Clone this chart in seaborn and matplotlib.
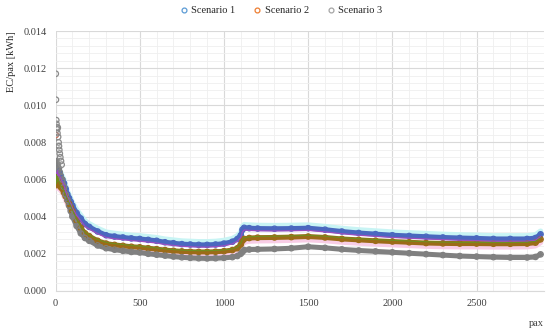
import pandas as pd
import matplotlib.pyplot as plt
import seaborn as sns
from matplotlib.lines import Line2D
from matplotlib.ticker import MultipleLocator, FormatStrFormatter
from matplotlib.transforms import ScaledTranslation

pax = [1, 3, 5, 8, 12, 16, 20, 25, 30, 40, 50, 60, 70, 80, 90, 100, 125, 150, 175,
       200, 250, 300, 350, 400, 450, 500, 550, 600, 650, 700, 750, 800, 850, 900,
       950, 1000, 1050, 1080, 1100, 1110, 1120, 1150, 1200, 1300, 1400, 1500, 1600,
       1700, 1800, 1900, 2000, 2100, 2200, 2300, 2400, 2500, 2600, 2700, 2800,
       2850, 2880]

scenario1 = [0.0062, 0.0060, 0.0065, 0.0064, 0.0066, 0.0063, 0.0064, 0.0063, 0.0062,
             0.0060, 0.0058, 0.0055, 0.0052, 0.0050, 0.0048, 0.0046, 0.0042, 0.0039,
             0.0036, 0.00345, 0.0032, 0.0030, 0.00293, 0.00288, 0.00283, 0.0028,
             0.00275, 0.0027, 0.00262, 0.00257, 0.00252, 0.0025, 0.00248, 0.00248,
             0.0025, 0.00255, 0.00265, 0.0028, 0.0030, 0.0033, 0.0034, 0.00338,
             0.00336, 0.00335, 0.00336, 0.00338, 0.0033, 0.0032, 0.00312, 0.00306,
             0.0030, 0.00296, 0.00292, 0.00288, 0.00285, 0.00283, 0.0028, 0.0028,
             0.0028, 0.00285, 0.00305]

scenario2 = [0.0060, 0.0057, 0.0062, 0.0058, 0.0061, 0.0059, 0.0058, 0.0057, 0.0056,
             0.0055, 0.0053, 0.0051, 0.0049, 0.0047, 0.0045, 0.0043, 0.0038, 0.0034,
             0.0031, 0.00295, 0.0027, 0.00255, 0.00248, 0.00243, 0.00238, 0.00235,
             0.0023, 0.00225, 0.0022, 0.00216, 0.00213, 0.00211, 0.0021, 0.0021,
             0.00211, 0.00214, 0.0022, 0.0023, 0.0025, 0.0027, 0.0028, 0.00285,
             0.00287, 0.00288, 0.0029, 0.00293, 0.00288, 0.0028, 0.00275, 0.0027,
             0.00266, 0.00262, 0.00258, 0.00256, 0.00255, 0.00255, 0.00254, 0.00254,
             0.00255, 0.0026, 0.00278]

scenario3 = [0.0065, 0.0068, 0.0070, 0.0066, 0.0068, 0.0065, 0.0066, 0.0064, 0.0062,
             0.0060, 0.0056, 0.0052, 0.0049, 0.0046, 0.0043, 0.0040, 0.0035, 0.0031,
             0.00285, 0.0027, 0.00245, 0.0023, 0.00222, 0.00216, 0.0021, 0.00207,
             0.0020, 0.00195, 0.0019, 0.00185, 0.00181, 0.00178, 0.00176, 0.00175,
             0.00176, 0.00178, 0.00182, 0.00188, 0.0020, 0.0021, 0.0022, 0.00223,
             0.00224, 0.00226, 0.0023, 0.00238, 0.00232, 0.00224, 0.00218, 0.00213,
             0.00208, 0.00203, 0.00198, 0.00193, 0.00188, 0.00185, 0.00182, 0.0018,
             0.0018, 0.00183, 0.00197]

# scattered start-up points
outlier_pax3 = [1, 2, 4, 5, 7, 9, 11, 13, 15, 18, 20, 22, 25, 28, 32, 36]
outlier_ec3 = [0.0117, 0.0103, 0.0092, 0.0090, 0.0088, 0.0087, 0.0085, 0.0088,
               0.0083, 0.0080, 0.0078, 0.0076, 0.0074, 0.0072, 0.0070, 0.0068]
outlier_pax2 = [1]
outlier_ec2 = [0.0084]

names = ["Scenario 1", "Scenario 2", "Scenario 3"]
legend_colors = ["#5b9bd5", "#ed7d31", "#a5a5a5"]
band_colors = ["#4a68bf", "#9c6b18", "#808080"]

df = pd.DataFrame({"pax": pax, names[0]: scenario1,
                   names[1]: scenario2, names[2]: scenario3})

sns.set_style("white")
plt.rcParams["font.family"] = ["Liberation Serif", "DejaVu Serif"]

fig = plt.figure(figsize=(5.5, 3.34), dpi=100)
ax = fig.add_axes([0.101, 0.129, 0.888, 0.778])


def shifted(points):
    # small vertical screen offset for the soft trend halos
    return ax.transData + ScaledTranslation(0, points / 72, fig.dpi_scale_trans)


# faint halos seen around the bands
sns.lineplot(data=df, x="pax", y=names[0], ax=ax, color="#c8f4f4", lw=4,
             zorder=2, transform=shifted(2.2))
sns.lineplot(data=df, x="pax", y=names[1], ax=ax, color="#f8cde6", lw=4,
             zorder=2, transform=shifted(-2.2))

for name, col in zip(names, band_colors):
    sns.lineplot(data=df, x="pax", y=name, ax=ax, color=col, lw=3.6,
                 solid_capstyle="round", zorder=3)
    sns.scatterplot(data=df, x="pax", y=name, ax=ax, marker="o", s=15,
                    facecolor="none", edgecolor=col, linewidth=0.9, zorder=4)

# thin trend lines at the band edges
sns.lineplot(data=df, x="pax", y=names[0], ax=ax, color="#9a4fc0", lw=0.9,
             zorder=5, transform=shifted(-1.6))
sns.lineplot(data=df, x="pax", y=names[1], ax=ax, color="#6f8f1f", lw=0.8,
             zorder=5, transform=shifted(0.9))

sns.scatterplot(x=outlier_pax2, y=outlier_ec2, ax=ax, marker="o", s=16,
                facecolor="none", edgecolor="#d0705a", linewidth=0.9, zorder=5)
sns.scatterplot(x=outlier_pax3, y=outlier_ec3, ax=ax, marker="o", s=16,
                facecolor="none", edgecolor="#8a8a8a", linewidth=0.9, zorder=5)

ax.set_xlim(0, 2900)
ax.set_ylim(0, 0.014)
ax.xaxis.set_major_locator(MultipleLocator(500))
ax.xaxis.set_minor_locator(MultipleLocator(100))
ax.yaxis.set_major_locator(MultipleLocator(0.002))
ax.yaxis.set_minor_locator(MultipleLocator(0.0004))
ax.yaxis.set_major_formatter(FormatStrFormatter("%.3f"))
ax.grid(which="major", color="#d9d9d9", lw=0.8)
ax.grid(which="minor", color="#efefef", lw=0.6)
ax.set_axisbelow(True)
for s in ["top", "right", "left"]:
    ax.spines[s].set_visible(False)
ax.spines["bottom"].set_color("#d9d9d9")
ax.tick_params(which="both", length=0, labelsize=7.5, colors="#404040", pad=6)

ax.set_ylabel("EC/pax [kWh]", loc="top", fontsize=7.5, color="#262626", labelpad=6)
ax.set_xlabel("pax", loc="right", fontsize=7.5, color="#404040", labelpad=8)

handles = [Line2D([], [], marker="o", ls="none", markersize=3.5, markerfacecolor="none",
                  markeredgecolor=c, markeredgewidth=0.9) for c in legend_colors]
fig.legend(handles, names, loc="upper center", bbox_to_anchor=(0.51, 1.01), ncol=3,
           frameon=False, fontsize=7.5, handletextpad=0.2, columnspacing=1.6,
           handlelength=1.0)

fig.savefig("out.png", dpi=100)
